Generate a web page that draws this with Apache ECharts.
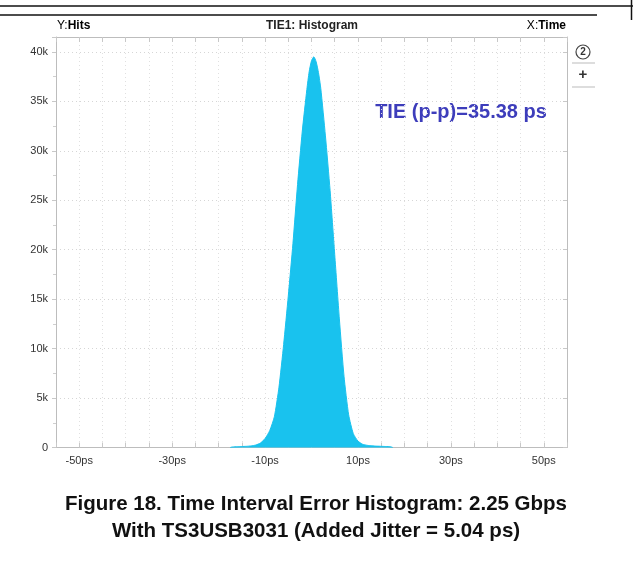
<!DOCTYPE html>
<html>
<head>
<meta charset="utf-8">
<script src="https://cdn.jsdelivr.net/npm/echarts@6/dist/echarts.min.js"></script>
<style>
html,body{margin:0;padding:0;background:#fff;}
#chart{width:633px;height:563px;}
</style>
</head>
<body>
<div id="chart"></div>
<script>
// Data
const timePs = [-17.5, -17, -16, -15, -14, -13, -12, -11, -10, -9, -8, -7, -6, -5, -4, -3, -2, -1, -0.5, 0, 0.5, 1, 1.5, 2, 3, 4, 5, 6, 7, 8, 9, 10, 11, 12, 13, 14, 15, 16, 17, 17.5];
const hits   = [0, 60, 80, 100, 120, 160, 250, 450, 900, 1700, 3100, 6100, 10400, 15300, 20600, 26600, 31900, 36200, 38000, 39100, 39500, 39000, 37900, 36300, 31500, 26000, 19500, 13000, 7200, 3300, 1400, 650, 330, 220, 170, 140, 120, 100, 80, 0];
const xTickLabels = [-50, -30, -10, 10, 30, 50];
const yTickValues = [0, 5000, 10000, 15000, 20000, 25000, 30000, 35000, 40000];
const headerCenter = 'TIE1: Histogram';
const annotation = 'TIE (p-p)=35.38 ps';
const caption1 = 'Figure 18. Time Interval Error Histogram: 2.25 Gbps';
const caption2 = 'With TS3USB3031 (Added Jitter = 5.04 ps)';

const seriesData = timePs.map((t, i) => [t, hits[i]]);
const chart = echarts.init(document.getElementById('chart'), null, {renderer: 'canvas'});
const FONT = '"Liberation Sans", Arial, Helvetica, sans-serif';
const gridL = 56, gridT = 37, gridR = 66, gridB = 115.5;

chart.setOption({
  animation: false,
  backgroundColor: '#fff',
  grid: {left: gridL, top: gridT, right: gridR, bottom: gridB, containLabel: false},
  xAxis: [{
    type: 'value', min: -55, max: 55, interval: 5, position: 'bottom',
    axisLine: {show: true, onZero: false, lineStyle: {color: '#bdbdbd'}},
    axisTick: {show: true, inside: true, length: 5, lineStyle: {color: '#c8c8c8'}},
    axisLabel: {
      show: true, margin: 8, color: '#333', fontSize: 11, fontFamily: FONT,
      formatter: v => xTickLabels.indexOf(v) >= 0 ? v + 'ps' : ''
    },
    splitLine: {show: true, lineStyle: {color: '#e0e0e0', type: [1, 3], width: 1}}
  }, {
    type: 'value', min: -55, max: 55, interval: 5, position: 'top',
    axisLine: {show: true, onZero: false, lineStyle: {color: '#bdbdbd'}},
    axisTick: {show: true, inside: true, length: 5, lineStyle: {color: '#c8c8c8'}},
    axisLabel: {show: false}, splitLine: {show: false}
  }],
  yAxis: [{
    type: 'value', min: 0, max: 41500, interval: 5000, position: 'left',
    axisLine: {show: true, onZero: false, lineStyle: {color: '#bdbdbd'}},
    axisTick: {show: true, inside: false, length: 4, lineStyle: {color: '#c8c8c8'}},
    minorTick: {show: true, splitNumber: 2, length: 3, lineStyle: {color: '#cfcfcf'}},
    axisLabel: {
      margin: 8, color: '#333', fontSize: 11, fontFamily: FONT,
      formatter: v => yTickValues.indexOf(v) >= 0 ? (v === 0 ? '0' : (v / 1000) + 'k') : ''
    },
    splitLine: {show: true, lineStyle: {color: '#d6d6d6', type: [1, 3], width: 1}}
  }, {
    type: 'value', min: 0, max: 41500, interval: 5000, position: 'right',
    axisLine: {show: true, onZero: false, lineStyle: {color: '#bdbdbd'}},
    axisTick: {show: true, inside: true, length: 4, lineStyle: {color: '#c8c8c8'}},
    axisLabel: {show: false}, splitLine: {show: false}
  }],
  series: [{
    type: 'line',
    data: seriesData,
    xAxisIndex: 0, yAxisIndex: 0,
    symbol: 'none',
    smooth: 0.2,
    lineStyle: {color: '#19c2ee', width: 1},
    areaStyle: {color: '#19c2ee', opacity: 1},
    z: 3
  }],
  graphic: [
    {type: 'line', shape: {x1: 0, y1: 6, x2: 633, y2: 6}, style: {stroke: '#111', lineWidth: 1.5}},
    {type: 'line', shape: {x1: 631.5, y1: 0, x2: 631.5, y2: 20}, style: {stroke: '#111', lineWidth: 1.5}},
    {type: 'line', shape: {x1: 0, y1: 15, x2: 597, y2: 15}, style: {stroke: '#111', lineWidth: 1.5}},
    {type: 'text', x: 57, y: 26, style: {
      text: '{a|Y:}{b|Hits}', verticalAlign: 'middle', rich: {
        a: {fontFamily: FONT, fontSize: 12, color: '#555'},
        b: {fontFamily: FONT, fontSize: 12, fontWeight: 'bold', color: '#222'}
      }}},
    {type: 'text', x: 312, y: 26, style: {text: headerCenter, fontFamily: FONT, fontSize: 12, fontWeight: 'bold', fill: '#222', align: 'center', verticalAlign: 'middle'}},
    {type: 'text', x: 566, y: 26, style: {
      text: '{a|X:}{b|Time}', align: 'right', verticalAlign: 'middle', rich: {
        a: {fontFamily: FONT, fontSize: 12, color: '#555'},
        b: {fontFamily: FONT, fontSize: 12, fontWeight: 'bold', color: '#222'}
      }}},
    {type: 'circle', shape: {cx: 583, cy: 52, r: 7}, style: {fill: 'none', stroke: '#444', lineWidth: 1.2}},
    {type: 'text', x: 583, y: 52.5, style: {text: '2', fontFamily: FONT, fontSize: 10, fontWeight: 'bold', fill: '#333', align: 'center', verticalAlign: 'middle'}},
    {type: 'line', shape: {x1: 572, y1: 63, x2: 595, y2: 63}, style: {stroke: '#bbb', lineWidth: 1}},
    {type: 'text', x: 583, y: 75, style: {text: '+', fontFamily: FONT, fontSize: 15, fontWeight: 'bold', fill: '#333', align: 'center', verticalAlign: 'middle'}},
    {type: 'line', shape: {x1: 572, y1: 87, x2: 595, y2: 87}, style: {stroke: '#bbb', lineWidth: 1}},
    {type: 'text', x: 461, y: 112, style: {text: annotation, fontFamily: FONT, fontSize: 20, fontWeight: 'bold', fill: '#3d3dbb', align: 'center', verticalAlign: 'middle'}},
    {type: 'text', x: 316, y: 504, style: {text: caption1, fontFamily: FONT, fontSize: 20.5, fontWeight: 'bold', fill: '#111', align: 'center', verticalAlign: 'middle'}},
    {type: 'text', x: 316, y: 531, style: {text: caption2, fontFamily: FONT, fontSize: 20.5, fontWeight: 'bold', fill: '#111', align: 'center', verticalAlign: 'middle'}}
  ]
});
</script>
</body>
</html>
